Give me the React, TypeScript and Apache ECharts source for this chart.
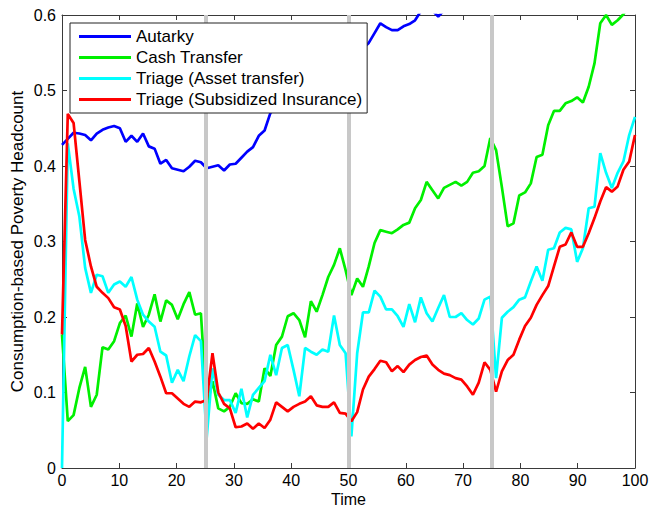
import React, { useEffect, useRef } from "react";
import * as echarts from "echarts";

const SERIES_NAMES = [
  "Autarky",
  "Cash Transfer",
  "Triage (Asset transfer)",
  "Triage (Subsidized Insurance)",
];
const COLORS = ["#0000ff", "#00f000", "#00ffff", "#ff0000"];

// 100 samples spread evenly over [0, 100] (MATLAB linspace(0,100,100))
const N_POINTS = 100;
const TIME_START = 0;
const TIME_END = 100;
const TIME = Array.from(
  { length: N_POINTS },
  (_, i) => TIME_START + (i * (TIME_END - TIME_START)) / (N_POINTS - 1)
);

const X_TICKS = [0, 10, 20, 30, 40, 50, 60, 70, 80, 90, 100];
const Y_TICKS = [0, 0.1, 0.2, 0.3, 0.4, 0.5, 0.6];
const SHOCK_TIMES = [25, 50, 75];

const AUTARKY = [
  0.428, 0.436, 0.444, 0.443, 0.441, 0.434, 0.443, 0.448, 0.451, 0.453,
  0.45, 0.432, 0.44, 0.432, 0.443, 0.426, 0.423, 0.403, 0.408, 0.397,
  0.395, 0.393, 0.399, 0.407, 0.405, 0.397, 0.399, 0.401, 0.394, 0.402,
  0.403, 0.411, 0.419, 0.425, 0.44, 0.447, 0.47, 0.478, 0.485, 0.492,
  0.497, 0.503, 0.508, 0.514, 0.519, 0.523, 0.53, 0.536, 0.541, 0.545,
  0.55, 0.553, 0.556, 0.563, 0.576, 0.589, 0.584, 0.58, 0.58, 0.585,
  0.588, 0.593, 0.605, 0.612, 0.606, 0.598, 0.606, 0.612, 0.618, 0.622,
  0.63, 0.634, 0.64, 0.645, 0.65, 0.655, 0.66, 0.665, 0.67, 0.672,
  0.68, 0.685, 0.69, 0.695, 0.7, 0.705, 0.71, 0.715, 0.72, 0.725,
  0.73, 0.735, 0.74, 0.745, 0.75, 0.755, 0.76, 0.765, 0.77, 0.775,
];

const CASH_TRANSFER = [
  0.177, 0.062, 0.07, 0.106, 0.134, 0.081, 0.097, 0.16, 0.157, 0.168,
  0.192, 0.202, 0.174, 0.218, 0.187, 0.203, 0.23, 0.194, 0.222, 0.216,
  0.197, 0.217, 0.233, 0.203, 0.205, 0.081, 0.115, 0.079, 0.075, 0.081,
  0.099, 0.086, 0.085, 0.091, 0.088, 0.132, 0.122, 0.163, 0.174, 0.201,
  0.205, 0.196, 0.173, 0.221, 0.207, 0.229, 0.253, 0.269, 0.291, 0.262,
  0.229, 0.251, 0.24, 0.267, 0.298, 0.315, 0.313, 0.311, 0.316, 0.322,
  0.325, 0.344, 0.355, 0.379, 0.368, 0.357, 0.371, 0.375, 0.379, 0.374,
  0.379, 0.391, 0.393, 0.4, 0.437, 0.421, 0.372, 0.32, 0.324, 0.361,
  0.365, 0.377, 0.412, 0.415, 0.454, 0.473, 0.473, 0.483, 0.486, 0.491,
  0.484, 0.505, 0.536, 0.589, 0.6, 0.587, 0.593, 0.601, 0.612, 0.625,
];

const ASSET_TRANSFER = [
  0.0, 0.43, 0.37, 0.333, 0.265, 0.232, 0.256, 0.254, 0.232, 0.243,
  0.247, 0.24, 0.253, 0.223, 0.203, 0.194, 0.187, 0.154, 0.149, 0.113,
  0.13, 0.115, 0.148, 0.176, 0.168, 0.04, 0.132, 0.097, 0.09, 0.09,
  0.073, 0.105, 0.067, 0.097, 0.106, 0.115, 0.15, 0.123, 0.159, 0.163,
  0.13, 0.095, 0.159, 0.154, 0.15, 0.157, 0.154, 0.202, 0.163, 0.152,
  0.042, 0.152, 0.206, 0.206, 0.235, 0.227, 0.21, 0.21, 0.201, 0.187,
  0.217, 0.193, 0.226, 0.205, 0.194, 0.212, 0.229, 0.2, 0.2, 0.205,
  0.196, 0.19, 0.198, 0.223, 0.227, 0.119, 0.199, 0.207, 0.213, 0.223,
  0.226, 0.247, 0.267, 0.248, 0.289, 0.291, 0.312, 0.318, 0.316, 0.273,
  0.291, 0.344, 0.346, 0.417, 0.391, 0.371, 0.391, 0.406, 0.441, 0.465,
];

const SUBSIDIZED_INSURANCE = [
  0.177, 0.469, 0.457, 0.38, 0.302, 0.267, 0.24, 0.232, 0.225, 0.213,
  0.21, 0.188, 0.141, 0.15, 0.151, 0.159, 0.141, 0.121, 0.099, 0.099,
  0.092, 0.085, 0.081, 0.088, 0.087, 0.09, 0.152, 0.1, 0.085, 0.079,
  0.054, 0.055, 0.059, 0.052, 0.059, 0.053, 0.064, 0.087, 0.081, 0.075,
  0.081, 0.085, 0.088, 0.095, 0.083, 0.081, 0.081, 0.087, 0.073, 0.072,
  0.062, 0.074, 0.104, 0.121, 0.131, 0.142, 0.14, 0.128, 0.135, 0.127,
  0.137, 0.143, 0.147, 0.149, 0.137, 0.13, 0.125, 0.123, 0.119, 0.117,
  0.108, 0.097, 0.113, 0.14, 0.13, 0.101, 0.128, 0.143, 0.15, 0.17,
  0.188, 0.199, 0.216, 0.229, 0.241, 0.267, 0.293, 0.296, 0.312, 0.293,
  0.293, 0.311, 0.331, 0.353, 0.372, 0.366, 0.373, 0.395, 0.406, 0.441,
];

const SERIES_VALUES = [AUTARKY, CASH_TRANSFER, ASSET_TRANSFER, SUBSIDIZED_INSURANCE];

const FONT = "'Liberation Sans', Arial, Helvetica, sans-serif";
const AXIS_COLOR = "#3a3a3a";

export default function App() {
  const ref = useRef<HTMLDivElement | null>(null);

  useEffect(() => {
    if (!ref.current) return;
    const chart = echarts.init(ref.current, undefined, { renderer: "svg" });

    const xCommon = {
      type: "value" as const,
      min: X_TICKS[0],
      max: X_TICKS[X_TICKS.length - 1],
      interval: X_TICKS[1] - X_TICKS[0],
      axisLine: { show: true, onZero: false, lineStyle: { color: AXIS_COLOR, width: 1 } },
      axisTick: { show: true, inside: true, length: 5, lineStyle: { color: AXIS_COLOR } },
      splitLine: { show: false },
    };
    const yCommon = {
      type: "value" as const,
      min: Y_TICKS[0],
      max: Y_TICKS[Y_TICKS.length - 1],
      interval: 0.1,
      axisLine: { show: true, onZero: false, lineStyle: { color: AXIS_COLOR, width: 1 } },
      axisTick: { show: true, inside: true, length: 5, lineStyle: { color: AXIS_COLOR } },
      splitLine: { show: false },
    };

    const lineSeries = SERIES_NAMES.map((name, k) => ({
      name,
      type: "line",
      data: TIME.map((t, i) => [t, SERIES_VALUES[k][i]]),
      showSymbol: false,
      symbol: "none",
      clip: true,
      z: 2,
      lineStyle: { color: COLORS[k], width: 2.7 },
      itemStyle: { color: COLORS[k] },
    }));

    chart.setOption({
      animation: false,
      backgroundColor: "#ffffff",
      grid: {
        left: 62,
        top: 15,
        width: 573,
        height: 453,
        containLabel: false,
        outerBoundsMode: "none",
      },
      xAxis: [
        {
          ...xCommon,
          position: "bottom",
          axisLabel: { show: true, color: "#000", fontSize: 16, lineHeight: 16, fontFamily: FONT, margin: 4 },
          name: "Time",
          nameLocation: "middle",
          nameGap: 23,
          nameMoveOverlap: false,
          nameTextStyle: { color: "#000", fontSize: 16, lineHeight: 16, fontFamily: FONT },
        },
        { ...xCommon, position: "top", axisLabel: { show: false } },
      ],
      yAxis: [
        {
          ...yCommon,
          position: "left",
          axisLabel: {
            show: true,
            color: "#000",
            fontSize: 16,
            fontFamily: FONT,
            margin: 6,
            formatter: (v: number) => String(+v.toFixed(1)),
          },
          name: "Consumption-based Poverty Headcount",
          nameLocation: "middle",
          nameGap: 36,
          nameRotate: 90,
          nameMoveOverlap: false,
          nameTextStyle: { color: "#000", fontSize: 17, fontFamily: FONT },
        },
        { ...yCommon, position: "right", axisLabel: { show: false } },
      ],
      legend: {
        data: SERIES_NAMES,
        orient: "vertical",
        left: 70,
        top: 23,
        z: 10,
        backgroundColor: "#ffffff",
        borderColor: "#222",
        borderWidth: 1,
        borderRadius: 0,
        padding: [5, 5, 5, 9],
        itemGap: 4,
        itemWidth: 52,
        itemHeight: 3,
        icon: "rect",
        selectedMode: false,
        textStyle: { color: "#000", fontSize: 17, fontFamily: FONT, lineHeight: 17 },
      },
      series: [
        ...lineSeries,
        {
          name: "shocks",
          type: "line",
          data: [],
          z: 5,
          silent: true,
          markLine: {
            silent: true,
            symbol: ["none", "none"],
            label: { show: false },
            lineStyle: { color: "#c8c8c8", width: 4, type: "solid" },
            data: SHOCK_TIMES.map((t) => ({ xAxis: t })),
          },
        },
      ],
    });

    return () => chart.dispose();
  }, []);

  return (
    <div
      ref={ref}
      style={{ position: "fixed", left: 0, top: 0, width: 651, height: 510, background: "#fff" }}
    />
  );
}
